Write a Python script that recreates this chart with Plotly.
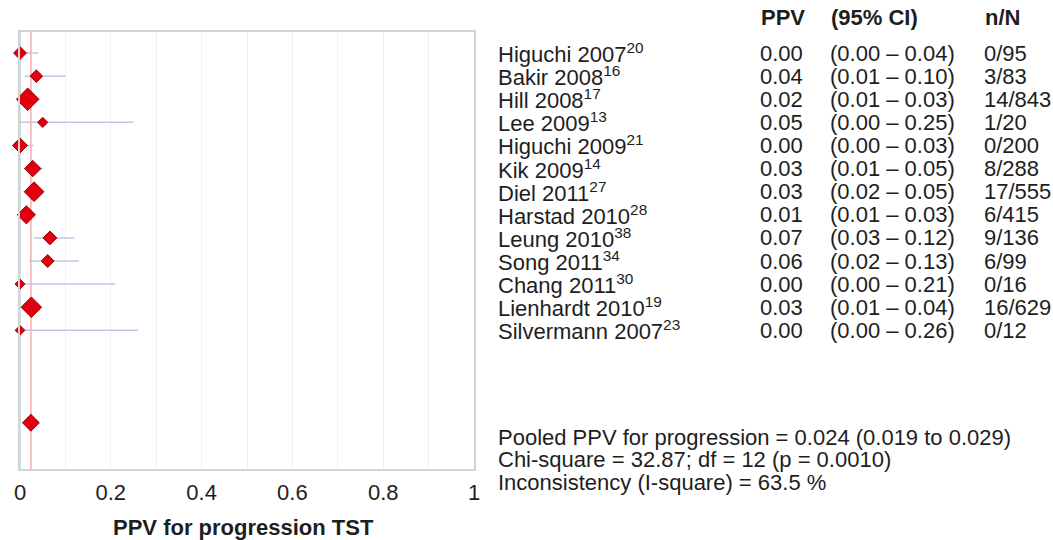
import plotly.graph_objects as go

studies = ["Higuchi 2007", "Bakir 2008", "Hill 2008", "Lee 2009", "Higuchi 2009", "Kik 2009",
           "Diel 2011", "Harstad 2010", "Leung 2010", "Song 2011", "Chang 2011",
           "Lienhardt 2010", "Silvermann 2007"]
refs = ["20", "16", "17", "13", "21", "14", "27", "28", "38", "34", "30", "19", "23"]
ppv = [0.0, 0.036, 0.017, 0.05, 0.0, 0.028, 0.031, 0.014, 0.066, 0.061, 0.0, 0.025, 0.0]
ppv_txt = ["0.00", "0.04", "0.02", "0.05", "0.00", "0.03", "0.03", "0.01", "0.07", "0.06", "0.00", "0.03", "0.00"]
ci_low = [0.00, 0.01, 0.01, 0.00, 0.00, 0.01, 0.02, 0.01, 0.03, 0.02, 0.00, 0.01, 0.00]
ci_high = [0.04, 0.10, 0.03, 0.25, 0.03, 0.05, 0.05, 0.03, 0.12, 0.13, 0.21, 0.04, 0.26]
n_events = [0, 3, 14, 1, 0, 8, 17, 6, 9, 6, 0, 16, 0]
n_total = [95, 83, 843, 20, 200, 288, 555, 415, 136, 99, 16, 629, 12]
pooled = 0.024
pooled_low = 0.019
pooled_high = 0.029
chi2 = 32.87
df = 12
pval = "0.0010"
i2 = 63.5
tick_vals = [0, 0.2, 0.4, 0.6, 0.8, 1]
tick_text = ["0", "0.2", "0.4", "0.6", "0.8", "1"]

W, H = 1053, 540
FONT = "Liberation Sans, Arial, sans-serif"
FS = 22
rows = list(range(len(studies)))
pooled_row = 16

sizes = [(8 + 0.5 * N ** 0.5) / 1.3 for N in n_total]

fig = go.Figure()
fig.add_trace(go.Scatter(
    x=ppv, y=rows, mode="markers",
    marker=dict(symbol="diamond", size=sizes, color="#e00010", opacity=1,
                line=dict(color="#a00000", width=1)),
    error_x=dict(type="data", symmetric=False,
                 array=[h - p for h, p in zip(ci_high, ppv)],
                 arrayminus=[p - l for p, l in zip(ppv, ci_low)],
                 color="#c4c4e4", thickness=1.5, width=0),
    showlegend=False, cliponaxis=False))
fig.add_trace(go.Scatter(
    x=[pooled], y=[pooled_row], mode="markers",
    marker=dict(symbol="diamond", size=13, color="#e00010", opacity=1,
                line=dict(color="#a00000", width=1)),
    showlegend=False, cliponaxis=False))

fig.add_shape(type="line", xref="x", yref="paper", x0=pooled, x1=pooled,
              y0=1 - 469 / H, y1=1 - 32 / H,
              line=dict(color="rgba(235,120,120,0.6)", width=1.5), layer="below")
fig.add_shape(type="line", xref="x", yref="paper", x0=0, x1=0,
              y0=1 - 469 / H, y1=1 - 32 / H,
              line=dict(color="#c0d8d8", width=1.5), layer="below")

ann = []
txtcol = "#1e1e1e"
for i, s in enumerate(studies):
    ann.append(dict(x=496 / W, y=i, xref="paper", yref="y", xanchor="left", yanchor="middle",
                    text=f"{s}<sup>{refs[i]}</sup>", showarrow=False,
                    font=dict(family=FONT, size=FS, color=txtcol)))
    ann.append(dict(x=758 / W, y=i, xref="paper", yref="y", xanchor="left", yanchor="middle",
                    text=ppv_txt[i], showarrow=False,
                    font=dict(family=FONT, size=FS, color=txtcol)))
    ann.append(dict(x=828 / W, y=i, xref="paper", yref="y", xanchor="left", yanchor="middle",
                    text=f"({ci_low[i]:.2f} \u2013 {ci_high[i]:.2f})", showarrow=False,
                    font=dict(family=FONT, size=FS, color=txtcol)))
    ann.append(dict(x=982 / W, y=i, xref="paper", yref="y", xanchor="left", yanchor="middle",
                    text=f"{n_events[i]}/{n_total[i]}", showarrow=False,
                    font=dict(family=FONT, size=FS, color=txtcol)))

for label, px in [("PPV", 759), ("(95% CI)", 829), ("n/N", 983)]:
    ann.append(dict(x=px / W, y=1 - 18 / H, xref="paper", yref="paper", xanchor="left",
                    yanchor="middle", text=f"<b>{label}</b>", showarrow=False,
                    font=dict(family=FONT, size=FS, color=txtcol)))

bottom_lines = [
    f"Pooled PPV for progression = {pooled:.3f} ({pooled_low:.3f} to {pooled_high:.3f})",
    f"Chi-square = {chi2:.2f}; df = {df} (p = {pval})",
    f"Inconsistency (I-square) = {i2:.1f} %",
]
for k, line in enumerate(bottom_lines):
    ann.append(dict(x=496 / W, y=1 - (437 + 22.5 * k) / H, xref="paper", yref="paper",
                    xanchor="left", yanchor="middle", text=line, showarrow=False,
                    font=dict(family=FONT, size=FS, color=txtcol)))

ann.append(dict(x=243 / W, y=1 - 527 / H, xref="paper", yref="paper", xanchor="center",
                yanchor="middle", text="<b>PPV for progression TST</b>", showarrow=False,
                font=dict(family=FONT, size=FS, color=txtcol)))

fig.update_layout(
    width=W, height=H, margin=dict(l=0, r=0, t=0, b=0),
    paper_bgcolor="white", plot_bgcolor="white",
    annotations=ann,
    xaxis=dict(domain=[20 / W, 474 / W], range=[0, 1], tickvals=tick_vals, ticktext=tick_text,
               showgrid=True, gridcolor="#efefef", gridwidth=1,
               minor=dict(dtick=0.1, showgrid=True, gridcolor="#efefef"),
               zeroline=False, showline=True, linecolor="#d4d4d4", linewidth=2, mirror=True,
               ticks="outside", ticklen=3, tickcolor="white",
               tickfont=dict(family=FONT, size=FS, color=txtcol), automargin=False),
    yaxis=dict(domain=[1 - 469 / H, 1 - 32 / H], range=[18.0, -0.91], showticklabels=False,
               showgrid=False, zeroline=False, showline=True, linecolor="#d4d4d4", linewidth=2,
               mirror=True, automargin=False),
)

fig.write_html("out.html", config={"displayModeBar": False},
               post_script="document.body.style.margin='0';")
